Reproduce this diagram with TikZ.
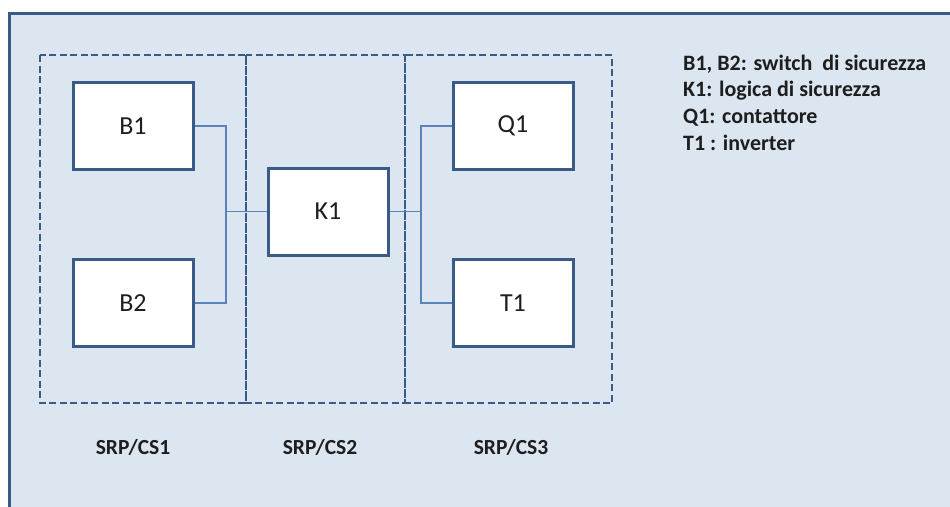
\documentclass[tikz,border=0pt]{standalone}
\usepackage{fontspec}
\setmainfont{Carlito}
\definecolor{panel}{HTML}{DCE6F1}
\definecolor{frame}{HTML}{3A5A88}
\definecolor{wire}{HTML}{5B83BA}
\definecolor{ink}{HTML}{1E1E1E}
\tikzset{
  unit/.style={draw=frame, line width=3pt, fill=white, minimum width=120pt, minimum height=87pt,
    inner sep=0pt, font=\fontsize{26}{30}\selectfont, text=ink},
  zone/.style={draw=frame, line width=2.8pt, dash pattern=on 7pt off 3.5pt},
  link/.style={draw=wire, line width=1.2pt},
  zonelabel/.style={font=\bfseries\fontsize{21.5}{26}\selectfont, text=ink, anchor=base, inner sep=0pt},
  legend/.style={font=\bfseries\fontsize{22}{26}\selectfont, text=ink, anchor=base west, inner sep=0pt}
}
\begin{document}
\begin{tikzpicture}[x=1pt,y=-1pt]
\useasboundingbox (0,0) rectangle (950,506);
% outer panel, running off the right and bottom edges
\fill[white] (0,0) rectangle (950,506);
\fill[panel] (9,13) rectangle (955,511);
\draw[frame, line width=3pt] (9,511) -- (9,13) -- (955,13);
% safety-related zones
\draw[zone] (40,55) rectangle (246,403);
\draw[zone] (246,55) rectangle (405,403);
\draw[zone] (405,55) rectangle (612,403);
% units
\node[unit] (B1) at (133,126) {B1};
\node[unit] (B2) at (133,303) {B2};
\node[unit] (K1) at (328,211.5) {K1};
\node[unit] (Q1) at (513,126) {Q1};
\node[unit] (T1) at (513,303) {T1};
% wiring
\coordinate (jl) at (226,211.5);
\coordinate (jr) at (421,211.5);
\draw[link] (B1.east) -| (jl);
\draw[link] (B2.east) -| (jl);
\draw[link] (jl) -- (K1.west);
\draw[link] (K1.east) -- (jr);
\draw[link] (Q1.west) -| (jr);
\draw[link] (T1.west) -| (jr);
% zone labels
\node[zonelabel] (L1) at (133,454) {SRP/CS1};
\node[zonelabel] (L2) at (320,454) {SRP/CS2};
\node[zonelabel] (L3) at (511,454) {SRP/CS3};
% legend
\node[legend] (leg1) at (683,70) {B1, B2: switch\ \ di sicurezza};
\node[legend] (leg2) at (683,96.7) {K1: logica di sicurezza};
\node[legend] (leg3) at (683,123.3) {Q1: contattore};
\node[legend] (leg4) at (683,150) {T1 : inverter};
\end{tikzpicture}
\end{document}
